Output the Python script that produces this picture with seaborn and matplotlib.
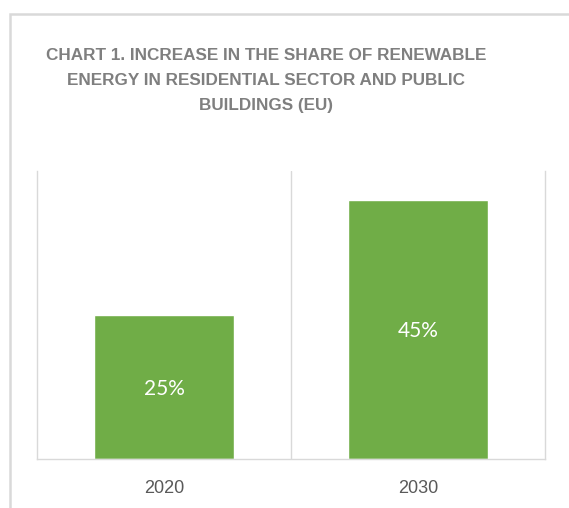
import matplotlib
matplotlib.use('Agg')
import matplotlib.pyplot as plt
import seaborn as sns
import pandas as pd
from matplotlib.patches import Rectangle

# --- Data ---
years = ['2020', '2030']
share = [0.25, 0.45]
bar_labels = ['25%', '45%']

title = 'CHART 1. INCREASE IN THE SHARE OF RENEWABLE\nENERGY IN RESIDENTIAL SECTOR AND PUBLIC\nBUILDINGS (EU)'

df = pd.DataFrame({'Year': years, 'Share': share})

sns.set_style('white')
plt.rcParams['font.family'] = ['Liberation Sans', 'DejaVu Sans']

fig = plt.figure(figsize=(5.69, 5.08), dpi=100)
ax = fig.add_axes([37 / 569, 1 - 459 / 508, (545 - 37) / 569, (459 - 171) / 508])

sns.barplot(data=df, x='Year', y='Share', color='#70AD47', saturation=1,
            width=0.555, ax=ax)

ax.set_xlim(-0.5, 1.5)
ax.set_ylim(0, 0.5)
ax.set_yticks([])
ax.set_xlabel('')
ax.set_ylabel('')

# category separators
ax.set_xticks([0.5], minor=True)
ax.grid(which='minor', axis='x', color='#D9D9D9', linewidth=1)
ax.tick_params(axis='x', which='both', length=0, labelsize=13,
               labelcolor='#595959', pad=15)

for side in ['left', 'right', 'bottom']:
    ax.spines[side].set_color('#D9D9D9')
    ax.spines[side].set_linewidth(1)
ax.spines['top'].set_visible(False)

# value labels in the middle of the bars
for i, (v, lab) in enumerate(zip(share, bar_labels)):
    ax.text(i, v / 2 - 0.003, lab, ha='center', va='center', color='white',
            fontsize=15, family=['Lato', 'DejaVu Sans'])

fig.text(266 / 569, 1 - 80.5 / 508, title, ha='center', va='center',
         fontsize=12.3, fontweight='bold', color='#7F7F7F', linespacing=1.86)

# outer chart frame (cropped)
frame = Rectangle((9.5 / 569, -0.5), 2, 1.5 - 13.5 / 508, transform=fig.transFigure,
                  fill=False, edgecolor='#D9D9D9', linewidth=1.8, clip_on=False)
fig.patches.append(frame)

fig.savefig('out.png', dpi=100)
plt.close(fig)
